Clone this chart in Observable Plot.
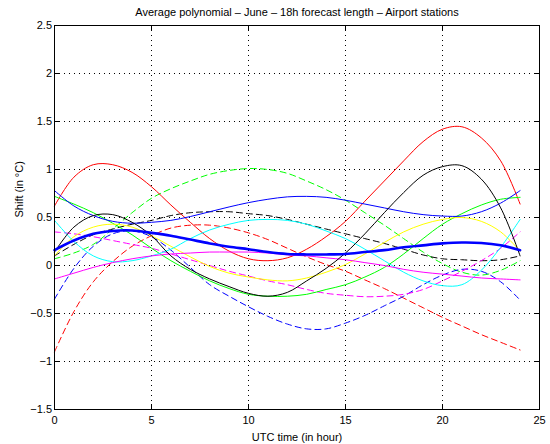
<!DOCTYPE html>
<html>
<head>
<meta charset="utf-8">
<script src="https://cdn.jsdelivr.net/npm/d3@7"></script>
<script src="https://cdn.jsdelivr.net/npm/@observablehq/plot@0.6"></script>
<style>
  body { margin: 0; background: white; }
</style>
</head>
<body>
<div id="chart"></div>
<script>
const titleText = "Average polynomial – June – 18h forecast length – Airport stations";
const xLabel = "UTC time (in hour)";
const yLabel = "Shift (in °C)";
const xTicks = [0, 5, 10, 15, 20, 25];
const yTicks = [-1.5, -1, -0.5, 0, 0.5, 1, 1.5, 2, 2.5];

const hours = [0,1,2,3,4,5,6,7,8,9,10,11,12,13,14,15,16,17,18,19,20,21,22,23,24];

// solid series
const redSolid     = [0.62,0.92,1.05,1.05,0.97,0.82,0.63,0.45,0.28,0.15,0.07,0.05,0.08,0.17,0.30,0.46,0.67,0.88,1.09,1.29,1.42,1.445,1.33,1.09,0.64];
const blackSolid   = [0.14,0.40,0.52,0.53,0.45,0.31,0.10,-0.04,-0.14,-0.22,-0.29,-0.32,-0.28,-0.16,-0.03,0.13,0.33,0.55,0.76,0.94,1.03,1.04,0.90,0.60,0.10];
const greenSolid   = [0.72,0.64,0.55,0.44,0.32,0.18,0.05,-0.06,-0.16,-0.24,-0.30,-0.32,-0.32,-0.30,-0.25,-0.20,-0.12,-0.02,0.12,0.28,0.43,0.54,0.63,0.69,0.71];
const blueThin     = [0.78,0.62,0.52,0.46,0.44,0.45,0.47,0.51,0.56,0.61,0.655,0.69,0.715,0.72,0.71,0.68,0.64,0.60,0.56,0.53,0.515,0.515,0.56,0.65,0.78];
const blueThick    = [0.16,0.26,0.33,0.36,0.365,0.34,0.31,0.27,0.23,0.195,0.17,0.14,0.12,0.115,0.115,0.12,0.14,0.16,0.19,0.21,0.23,0.24,0.235,0.21,0.16];
const yellowSolid  = [0.10,0.30,0.40,0.43,0.40,0.31,0.20,0.09,-0.01,-0.08,-0.12,-0.15,-0.16,-0.13,-0.07,0.01,0.12,0.24,0.35,0.43,0.48,0.50,0.46,0.35,0.15];
const cyanSolid    = [0.47,0.25,0.10,0.04,0.05,0.10,0.17,0.28,0.37,0.43,0.47,0.48,0.47,0.43,0.36,0.28,0.17,0.05,-0.07,-0.16,-0.21,-0.20,-0.05,0.19,0.48];
const magentaSolid = [-0.14,-0.08,-0.02,0.03,0.07,0.10,0.12,0.13,0.14,0.14,0.14,0.13,0.11,0.10,0.08,0.06,0.03,0.00,-0.04,-0.07,-0.09,-0.11,-0.13,-0.14,-0.15];

// dashed series
const redDashed     = [-0.90,-0.48,-0.17,0.04,0.20,0.31,0.39,0.42,0.42,0.39,0.34,0.27,0.18,0.09,0.01,-0.06,-0.15,-0.24,-0.34,-0.44,-0.54,-0.63,-0.72,-0.80,-0.88];
const greenDashed   = [0.07,0.13,0.22,0.38,0.55,0.70,0.80,0.88,0.95,0.99,1.01,1.00,0.96,0.88,0.79,0.68,0.55,0.42,0.28,0.14,0.02,-0.07,-0.10,-0.05,0.05];
const blueDashed    = [-0.35,-0.03,0.20,0.33,0.36,0.30,0.16,-0.02,-0.20,-0.32,-0.43,-0.53,-0.61,-0.66,-0.66,-0.60,-0.52,-0.42,-0.32,-0.20,-0.10,-0.04,-0.06,-0.17,-0.36];
const blackDashed   = [0.10,0.22,0.32,0.38,0.43,0.47,0.52,0.55,0.56,0.56,0.54,0.52,0.48,0.43,0.38,0.33,0.28,0.23,0.17,0.11,0.07,0.06,0.05,0.06,0.10];
const magentaDashed = [0.35,0.33,0.30,0.26,0.22,0.18,0.12,0.06,0.00,-0.06,-0.11,-0.16,-0.20,-0.25,-0.29,-0.31,-0.325,-0.32,-0.30,-0.25,-0.16,-0.06,0.05,0.18,0.35];

const seriesList = [
  {name: "redDashed", values: redDashed, color: "#ff0000", dashed: true, width: 1},
  {name: "greenDashed", values: greenDashed, color: "#00ff00", dashed: true, width: 1},
  {name: "blueDashed", values: blueDashed, color: "#0000ff", dashed: true, width: 1},
  {name: "blackDashed", values: blackDashed, color: "#000000", dashed: true, width: 1},
  {name: "magentaDashed", values: magentaDashed, color: "#ff00ff", dashed: true, width: 1},
  {name: "redSolid", values: redSolid, color: "#ff0000", dashed: false, width: 1},
  {name: "greenSolid", values: greenSolid, color: "#00ff00", dashed: false, width: 1},
  {name: "yellowSolid", values: yellowSolid, color: "#ffff00", dashed: false, width: 1},
  {name: "cyanSolid", values: cyanSolid, color: "#00ffff", dashed: false, width: 1},
  {name: "magentaSolid", values: magentaSolid, color: "#ff00ff", dashed: false, width: 1},
  {name: "blueThin", values: blueThin, color: "#0000ff", dashed: false, width: 1},
  {name: "blackSolid", values: blackSolid, color: "#000000", dashed: false, width: 1},
  {name: "blueThick", values: blueThick, color: "#0000ff", dashed: false, width: 2.6}
];

const lineMarks = seriesList.map(s => Plot.line(
  hours.map((h, i) => ({h, v: s.values[i]})),
  {x: "h", y: "v", stroke: s.color, strokeWidth: s.width, curve: "catmull-rom",
   strokeDasharray: s.dashed ? "6,4" : null}
));

const fmt = d => d < 0 ? "\u2212" + String(Math.abs(d)) : String(d);

const chart = Plot.plot({
  width: 550,
  height: 444,
  marginLeft: 54,
  marginRight: 11,
  marginTop: 25,
  marginBottom: 35,
  style: {fontFamily: "'Liberation Sans', Arial, Helvetica, sans-serif", fontSize: "11px", background: "white", color: "black"},
  x: {domain: [0, 25]},
  y: {domain: [-1.5, 2.5]},
  marks: [
    Plot.gridX(xTicks, {stroke: "black", strokeOpacity: 1, strokeDasharray: "1,4"}),
    Plot.gridY(yTicks, {stroke: "black", strokeOpacity: 1, strokeDasharray: "1,4"}),
    ...lineMarks,
    Plot.frame({stroke: "black", strokeWidth: 1}),
    Plot.axisX(xTicks, {anchor: "bottom", tickSize: -5, tickPadding: 12, tickFormat: fmt, label: null, fontSize: 11}),
    Plot.axisX(xTicks, {anchor: "top", tickSize: -5, tickFormat: () => "", label: null}),
    Plot.axisY(yTicks, {anchor: "left", tickSize: -5, tickPadding: 7.5, tickFormat: fmt, label: null, fontSize: 11}),
    Plot.axisY(yTicks, {anchor: "right", tickSize: -5, tickFormat: () => "", label: null}),
    Plot.text([titleText], {frameAnchor: "top", lineAnchor: "middle", dy: -13, fontSize: 11}),
    Plot.text([xLabel], {frameAnchor: "bottom", lineAnchor: "middle", dy: 28, fontSize: 11}),
    Plot.text([yLabel], {frameAnchor: "left", lineAnchor: "middle", dx: -35, rotate: -90, fontSize: 11})
  ]
});
document.getElementById("chart").appendChild(chart);
</script>
</body>
</html>
